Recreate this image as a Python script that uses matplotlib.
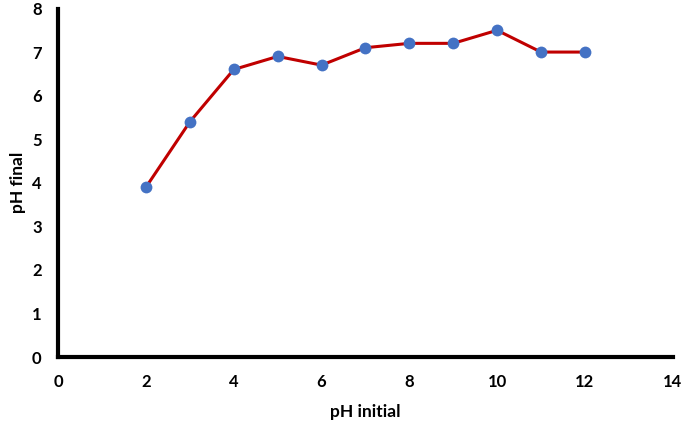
import matplotlib.pyplot as plt

ph_initial = [2, 3, 4, 5, 6, 7, 8, 9, 10, 11, 12]
ph_final = [3.9, 5.4, 6.6, 6.9, 6.7, 7.1, 7.2, 7.2, 7.5, 7.0, 7.0]

plt.rcParams['font.family'] = ['Lato', 'DejaVu Sans']

fig = plt.figure(figsize=(6.85, 4.25), dpi=100)
ax = fig.add_axes([0.085, 0.16, 0.897, 0.82])

ax.plot(ph_initial, ph_final, color='#C00000', linewidth=2.2,
        marker='o', markersize=8.5, markerfacecolor='#4472C4',
        markeredgecolor='#4472C4', markeredgewidth=0)

ax.set_xlim(0, 14)
ax.set_ylim(0, 8)
ax.set_xticks(range(0, 15, 2))
ax.set_yticks(range(0, 9))

for s in ['top', 'right']:
    ax.spines[s].set_visible(False)
for s in ['left', 'bottom']:
    ax.spines[s].set_linewidth(3)
    ax.spines[s].set_color('black')

ax.tick_params(length=0, labelsize=12, pad=12)
for lab in ax.get_xticklabels() + ax.get_yticklabels():
    lab.set_fontweight('bold')

ax.set_xlabel('pH initial', fontsize=12.5, fontweight='bold', labelpad=10)
ax.set_ylabel('pH final', fontsize=12.5, fontweight='bold', labelpad=4)

fig.savefig('out.png', dpi=100)
